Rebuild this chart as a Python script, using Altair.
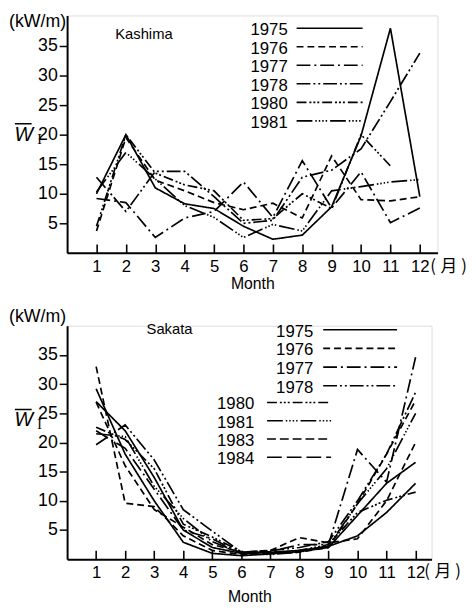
import altair as alt
import pandas as pd

months = list(range(1, 13))
y_ticks = [5, 10, 15, 20, 25, 30, 35]

kashima_years = ["1975", "1976", "1977", "1978", "1980", "1981"]
kashima_1975 = [10.0, 20.0, 11.0, 8.3, 7.5, 4.5, 2.3, 3.0, 7.8, 19.8, 38.0, 9.5]
kashima_1976 = [3.7, 19.5, 12.3, 10.5, 8.5, 7.3, 8.4, 5.9, 16.4, 9.0, 8.8, 9.5]
kashima_1977 = [9.2, 8.5, 2.6, 5.9, 7.0, 12.0, 6.0, 15.6, 7.6, 13.7, 5.1, 7.6]
kashima_1978 = [12.8, 7.0, 13.8, 13.8, 9.5, 5.0, 5.5, 12.8, 14.0, 17.6, 25.6, 33.8]
kashima_1980 = [4.5, 20.0, 13.5, 11.5, 10.5, 5.5, 5.8, 10.0, 7.5, 20.0, 14.7, None]
kashima_1981 = [10.3, 17.0, 12.5, 8.0, 6.0, 2.6, 4.8, 3.7, 10.5, 11.2, 12.0, 12.4]

sakata_years = ["1975", "1976", "1977", "1978", "1980", "1981", "1983", "1984"]
sakata_1975 = [27.0, 22.0, 14.0, 5.0, 2.0, 1.0, 1.2, 1.5, 2.2, 4.0, 8.0, 13.0]
sakata_1976 = [33.0, 9.6, 9.0, 4.0, 1.5, 0.8, 1.0, 1.2, 2.0, 9.5, 18.0, 27.2]
sakata_1977 = [22.0, 19.0, 12.0, 5.0, 3.5, 1.0, 1.3, 2.5, 2.5, 18.8, 13.2, 34.6]
sakata_1978 = [19.6, 23.0, 17.0, 8.5, 4.8, 1.2, 1.5, 2.0, 3.0, 10.0, 18.0, 28.6]
sakata_1980 = [22.6, 20.5, 15.5, 6.0, 3.8, 1.3, 1.0, 1.5, 2.5, 8.0, 10.1, 11.5]
sakata_1981 = [21.5, 21.0, 12.5, 7.0, 3.0, 1.0, 0.8, 1.2, 2.3, 9.5, 15.5, 25.0]
sakata_1983 = [29.2, 18.0, 10.0, 2.9, 1.0, 0.6, 0.9, 1.3, 2.0, 7.5, 13.0, 16.6]
sakata_1984 = [26.9, 16.0, 8.5, 5.5, 2.5, 1.2, 1.5, 3.7, 2.8, 3.5, 10.0, 20.0]

kashima_series = {
    "1975": kashima_1975, "1976": kashima_1976, "1977": kashima_1977,
    "1978": kashima_1978, "1980": kashima_1980, "1981": kashima_1981,
}
sakata_series = {
    "1975": sakata_1975, "1976": sakata_1976, "1977": sakata_1977,
    "1978": sakata_1978, "1980": sakata_1980, "1981": sakata_1981,
    "1983": sakata_1983, "1984": sakata_1984,
}

DASH = {
    "1975": [1, 0],
    "1976": [7, 4],
    "1977": [14, 4, 2, 4],
    "1978": [14, 3, 2, 3, 2, 3],
    "1980": [10, 3, 2, 2, 2, 2, 2, 3],
    "1981": [16, 3, 1.5, 2, 1.5, 2, 1.5, 2, 1.5, 3],
    "1983": [9, 4],
    "1984": [15, 5],
}

FONT = "Liberation Sans"
CJK = "Noto Sans CJK JP"
INWARD_TICK = 9  # px, x-axis ticks point into the plot
one = pd.DataFrame({"k": [0]})


def txt(s, x, y, size, align="center", baseline="middle", font=FONT, style="normal"):
    return alt.Chart(one).mark_text(
        text=s, fontSize=size, align=align, baseline=baseline, font=font,
        fontStyle=style, color="black"
    ).encode(x=alt.value(x), y=alt.value(y))


def seg(x1, x2, y, dash, width=1.6):
    return alt.Chart(one).mark_rule(
        color="black", strokeWidth=width, strokeDash=dash
    ).encode(x=alt.value(x1), x2=alt.value(x2), y=alt.value(y))


def panel(series, years, ymax, width, height, xmax, name, name_xy, legend_groups,
          ylab_y, kw_y, kw_baseline, month_y, lab_pad, title_pad):
    rows = []
    for yr in years:
        for m, v in zip(months, series[yr]):
            if v is not None:
                rows.append({"month": m, "value": v, "year": yr})
    df = pd.DataFrame(rows)

    xscale = alt.Scale(domain=[0, xmax], nice=False, zero=False)
    yscale = alt.Scale(domain=[0, ymax], nice=False, zero=True)
    xaxis = alt.Axis(
        values=months, title="Month", grid=False,
        ticks=True, tickSize=alt.ExprRef(expr=str(-INWARD_TICK)), tickWidth=1.6,
        tickColor="black",
        labelFontSize=17, labelPadding=lab_pad + INWARD_TICK, labelOverlap=False,
        labelFlush=False,
        titleFontSize=16, titleFontWeight="normal", titlePadding=title_pad,
        domainWidth=2, domainColor="black", labelColor="black", titleColor="black",
    )
    yaxis = alt.Axis(
        values=y_ticks, title=None, grid=False, tickSize=8, tickWidth=1.5,
        labelFontSize=18, labelPadding=2, labelOverlap=False, labelFlush=False,
        domainWidth=2, domainColor="black", tickColor="black", labelColor="black",
    )

    lines = alt.Chart(df).mark_line(color="black", strokeWidth=1.7).encode(
        x=alt.X("month:Q", scale=xscale, axis=xaxis),
        y=alt.Y("value:Q", scale=yscale, axis=yaxis),
        strokeDash=alt.StrokeDash(
            "year:N",
            scale=alt.Scale(domain=years, range=[DASH[y] for y in years]),
            legend=None,
        ),
    )

    layers = [lines]
    # axis unit and symbol
    layers.append(txt("(kW/m)", -59, kw_y, 18, align="left", baseline=kw_baseline))
    layers.append(txt("W", -44, ylab_y, 20, style="italic"))
    layers.append(seg(-53, -36, ylab_y - 11, [1, 0], 1.6))
    layers.append(txt("I", -28, ylab_y + 5, 14, font="Liberation Serif"))
    # month unit "(月)"
    layers.append(txt("(", width - 4.5, month_y, 17, font=CJK))
    layers.append(txt("月", width + 11.5, month_y, 17, font=CJK))
    layers.append(txt(")", width + 27, month_y, 17, font=CJK))
    layers.append(txt(name, name_xy[0], name_xy[1], 15))

    for (lab_right, line_x1, line_x2, y0, step, yrs) in legend_groups:
        for i, yr in enumerate(yrs):
            yy = y0 + i * step
            layers.append(txt(yr, lab_right, yy, 17, align="right"))
            layers.append(seg(line_x1, line_x2, yy - 2, DASH[yr]))

    return alt.layer(*layers).properties(width=width, height=height)


top = panel(
    kashima_series, kashima_years, 40.17, 376, 241, 12.6,
    "Kashima", (78, 19),
    [(224, 233, 300, 15, 18.8, kashima_years)],
    ylab_y=121, kw_y=-2, kw_baseline="top", month_y=255, lab_pad=6, title_pad=1,
)
bottom = panel(
    sakata_series, sakata_years, 40.0, 370, 237, 12.55,
    "Sakata", (104, 3),
    [(250, 260, 335, 6, 19, sakata_years[:4]), (190, 203, 268, 80, 18.5, sakata_years[4:])],
    ylab_y=96, kw_y=-9, kw_baseline="middle", month_y=250, lab_pad=6, title_pad=8,
)

chart = alt.vconcat(top, bottom, spacing=15).properties(
    padding={"left": 0, "top": 0, "right": 0, "bottom": 0}
).configure_view(strokeWidth=0).configure(font=FONT)

chart.save("out.html", embed_options={"renderer": "svg", "actions": False})
